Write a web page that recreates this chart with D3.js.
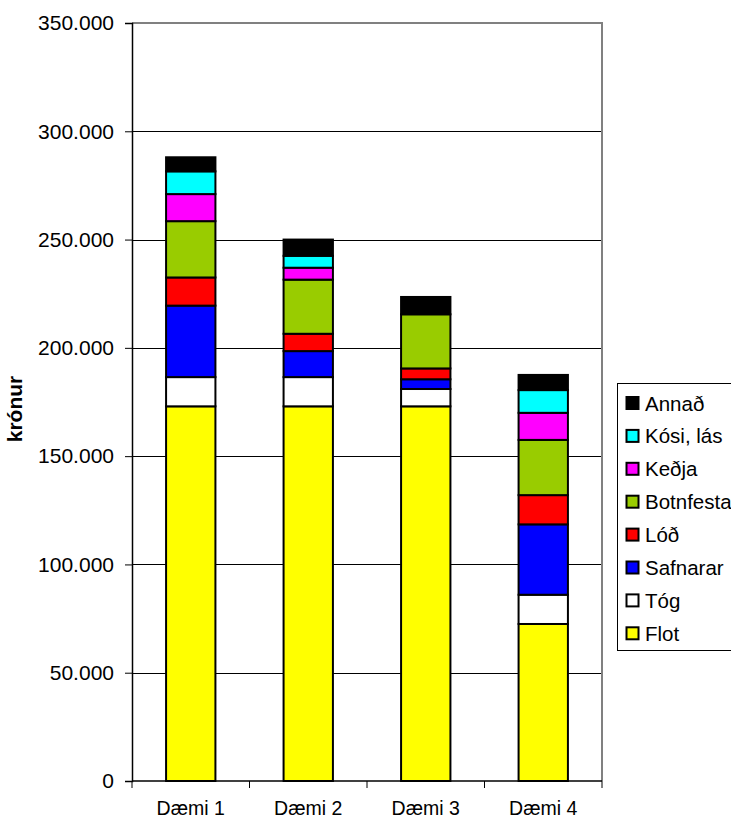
<!DOCTYPE html>
<html>
<head>
<meta charset="utf-8">
<script src="https://cdn.jsdelivr.net/npm/d3@7/dist/d3.min.js"></script>
<style>
  html, body { margin: 0; padding: 0; background: #fff; }
  svg { display: block; font-family: Arial, "Liberation Sans", sans-serif; }
</style>
</head>
<body>
<svg id="chart" width="731" height="821"></svg>
<script>
// Cost breakdown per example, in krónur
const categories = ["Dæmi 1", "Dæmi 2", "Dæmi 3", "Dæmi 4"];
const seriesNames = ["Flot", "Tóg", "Safnarar", "Lóð", "Botnfesta", "Keðja", "Kósi, lás", "Annað"];
const seriesColors = ["#ffff00", "#ffffff", "#0000ff", "#ff0000", "#99cc00", "#ff00ff", "#00ffff", "#000000"];
const flot      = [173000, 173000, 173000, 72500];
const tog       = [13500, 13500, 8000, 13500];
const safnarar  = [33000, 12000, 4500, 32500];
const lod       = [13000, 8000, 5000, 13500];
const botnfesta = [26000, 25000, 25000, 25500];
const kedja     = [12500, 5500, 0, 12500];
const kosi      = [10500, 5500, 0, 10500];
const annad     = [6500, 7500, 8000, 7000];
const yTicks = [0, 50000, 100000, 150000, 200000, 250000, 300000, 350000];
const yTitle = "krónur";

const seriesValues = [flot, tog, safnarar, lod, botnfesta, kedja, kosi, annad];
const rows = categories.map((c, i) => {
  const r = { cat: c };
  seriesNames.forEach((s, j) => { r[s] = seriesValues[j][i]; });
  return r;
});

const svg = d3.select("#chart");
const plot = { left: 132, right: 602, top: 23, bottom: 781 };

const x = d3.scaleBand().domain(categories)
  .range([plot.left, plot.right]).paddingInner(0.58).paddingOuter(0.29);
const y = d3.scaleLinear().domain([0, 350000]).range([plot.bottom, plot.top]);
const fmt = v => v === 0 ? "0" : d3.format(",")(v).replace(/,/g, ".");

// horizontal gridlines
svg.append("g").selectAll("line")
  .data(yTicks.filter(t => t > 0 && t < 350000))
  .join("line")
  .attr("x1", plot.left).attr("x2", plot.right)
  .attr("y1", d => Math.round(y(d)) + 0.5).attr("y2", d => Math.round(y(d)) + 0.5)
  .attr("stroke", "#000").attr("stroke-width", 1);

// plot frame (top and right)
svg.append("path")
  .attr("d", `M${plot.left},${plot.top}H${plot.right}V${plot.bottom}`)
  .attr("fill", "none").attr("stroke", "#808080").attr("stroke-width", 2);

// stacked bars
const stack = d3.stack().keys(seriesNames)(rows);
svg.append("g").selectAll("g")
  .data(stack)
  .join("g")
  .attr("fill", (d, i) => seriesColors[i])
  .selectAll("rect")
  .data(d => d.filter(p => p[1] - p[0] > 0))
  .join("rect")
  .attr("x", d => x(d.data.cat))
  .attr("width", x.bandwidth())
  .attr("y", d => y(d[1]))
  .attr("height", d => y(d[0]) - y(d[1]))
  .attr("stroke", "#000").attr("stroke-width", 2);

// y axis
const yAxis = svg.append("g")
  .attr("transform", `translate(${plot.left},0)`)
  .call(d3.axisLeft(y).tickValues(yTicks).tickFormat(fmt).tickSize(7).tickPadding(11));
yAxis.select(".domain").attr("stroke", "#000").attr("stroke-width", 1.5);
yAxis.selectAll(".tick line").attr("stroke", "#000");
yAxis.selectAll("text").attr("font-size", 21).attr("fill", "#000")
  .attr("font-family", "Arial, 'Liberation Sans', sans-serif");

// x axis with ticks at band boundaries
const xAxis = svg.append("g").attr("transform", `translate(0,${plot.bottom})`);
xAxis.append("line").attr("x1", plot.left).attr("x2", plot.right)
  .attr("stroke", "#000").attr("stroke-width", 1.5);
const bounds = categories.map(c => x(c) - x.step() * x.paddingInner() / 2);
bounds.push(plot.right);
bounds[0] = plot.left;
xAxis.selectAll(".bt").data(bounds).join("line")
  .attr("x1", d => d).attr("x2", d => d).attr("y1", 0).attr("y2", 7)
  .attr("stroke", "#000");
xAxis.selectAll(".cl").data(categories).join("text")
  .attr("x", d => x(d) + x.bandwidth() / 2).attr("y", 34)
  .attr("text-anchor", "middle").attr("font-size", 19.5).attr("fill", "#000")
  .text(d => d);

// y title
svg.append("text")
  .attr("transform", `translate(22,409) rotate(-90)`)
  .attr("text-anchor", "middle").attr("font-size", 21).attr("font-weight", "bold")
  .text(yTitle);

// legend (top series first)
const lg = svg.append("g");
lg.append("rect").attr("x", 617.5).attr("y", 383.5).attr("width", 130).attr("height", 267)
  .attr("fill", "#fff").attr("stroke", "#000").attr("stroke-width", 1);
const order = seriesNames.slice().reverse();
const items = lg.selectAll(".li").data(order).join("g")
  .attr("transform", (d, i) => `translate(626,${403 + i * 32.9})`);
items.append("rect").attr("x", 0.5).attr("y", -6).attr("width", 12).attr("height", 12)
  .attr("fill", d => seriesColors[seriesNames.indexOf(d)])
  .attr("stroke", "#000").attr("stroke-width", 2);
items.append("text").attr("x", 19).attr("y", 7.5)
  .attr("font-size", 20.5).attr("fill", "#000").text(d => d);
</script>
</body>
</html>
